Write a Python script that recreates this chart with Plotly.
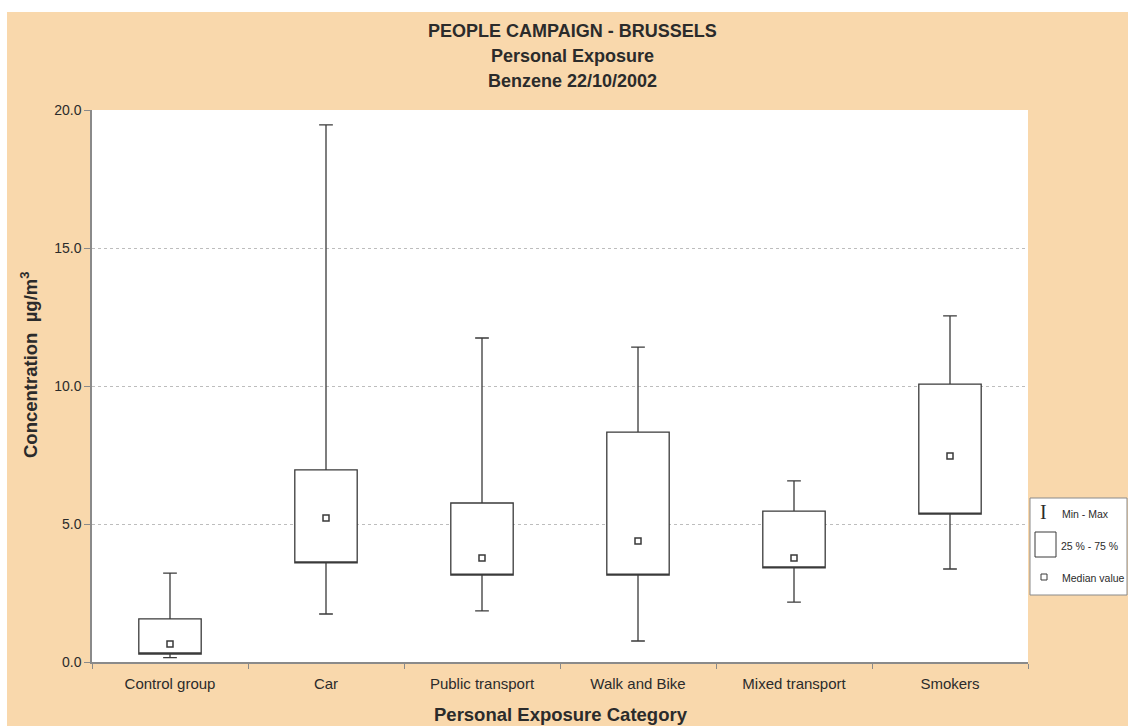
import plotly.graph_objects as go

# ---------------- data ----------------
categories = ["Control group", "Car", "Public transport", "Walk and Bike",
              "Mixed transport", "Smokers"]
minimum = [0.16, 1.74, 1.85, 0.76, 2.17, 3.37]
q25 = [0.29, 3.59, 3.15, 3.15, 3.41, 5.36]
median = [0.65, 5.22, 3.77, 4.38, 3.77, 7.46]
q75 = [1.56, 6.96, 5.76, 8.33, 5.47, 10.07]
maximum = [3.22, 19.46, 11.74, 11.41, 6.56, 12.54]
y_ticks = [0, 5, 10, 15, 20]

W, H = 1128, 726
ML, MR, MT, MB = 92, 100, 110, 64
PW, PH = W - ML - MR, H - MT - MB

def px(x):
    return (x - ML) / PW

def py(y):
    return (H - MB - y) / PH

FONT = "Liberation Sans, Arial, sans-serif"
INK = "#2b2b2b"
PEACH = "#F9D8AC"

fig = go.Figure()

# Box: the median is shown as a separate square marker in the reference,
# so the box's own median line is placed on the lower quartile edge (hidden).
fig.add_trace(go.Box(
    x=categories,
    q1=q25, median=q25, q3=q75,
    lowerfence=minimum, upperfence=maximum,
    boxpoints=False,
    width=0.4,
    whiskerwidth=0.22,
    fillcolor="white",
    line=dict(color="#3a3a3a", width=1.3),
    hoverinfo="skip",
    showlegend=False,
))

fig.add_trace(go.Scatter(
    x=categories, y=median, mode="markers",
    marker=dict(symbol="square", size=6, color="white",
                line=dict(color="#3a3a3a", width=1.5)),
    showlegend=False, hoverinfo="skip",
))

shapes = [
    # white strips along top and left edges
    dict(type="rect", xref="paper", yref="paper", x0=px(0), x1=px(W), y0=py(0), y1=py(12),
         fillcolor="white", line=dict(width=0), layer="below"),
    dict(type="rect", xref="paper", yref="paper", x0=px(0), x1=px(7), y0=py(0), y1=py(H),
         fillcolor="white", line=dict(width=0), layer="below"),
    # legend frame
    dict(type="rect", xref="paper", yref="paper", x0=px(1030), x1=px(1127), y0=py(498), y1=py(595),
         fillcolor="white", line=dict(color="#8a8a8a", width=1)),
    dict(type="rect", xref="paper", yref="paper", x0=px(1035), x1=px(1056), y0=py(532), y1=py(557),
         fillcolor="white", line=dict(color="#3a3a3a", width=1)),
    dict(type="rect", xref="paper", yref="paper", x0=px(1041), x1=px(1047), y0=py(574), y1=py(580),
         fillcolor="white", line=dict(color="#3a3a3a", width=1)),
]

annotations = []
for txt, yy in [("PEOPLE CAMPAIGN - BRUSSELS", 31), ("Personal Exposure", 56),
                ("Benzene 22/10/2002", 81)]:
    annotations.append(dict(text=f"<b>{txt}</b>", xref="paper", yref="paper",
                            x=px(572), y=py(yy), xanchor="center", yanchor="middle",
                            showarrow=False, font=dict(family=FONT, size=18, color=INK)))
annotations.append(dict(text="<b>Personal Exposure Category</b>", xref="paper", yref="paper",
                        x=px(561), y=py(714), xanchor="center", yanchor="middle",
                        showarrow=False, font=dict(family=FONT, size=18.5, color=INK)))
annotations.append(dict(text="<b>Concentration  µg/m<sup>3</sup></b>", xref="paper", yref="paper",
                        x=px(29), y=py(365), xanchor="center", yanchor="middle", textangle=-90,
                        showarrow=False, font=dict(family=FONT, size=18.5, color=INK)))
# legend texts
annotations.append(dict(text="I", xref="paper", yref="paper", x=px(1043), y=py(512),
                        xanchor="center", yanchor="middle", showarrow=False,
                        font=dict(family="Liberation Serif, serif", size=20, color=INK)))
for txt, xx, yy in [("Min - Max", 1060, 514), ("25 % - 75 %", 1059, 546),
                    ("Median value", 1060, 578)]:
    annotations.append(dict(text=txt, xref="paper", yref="paper", x=px(xx), y=py(yy),
                            xanchor="left", yanchor="middle", showarrow=False,
                            font=dict(family=FONT, size=10.5, color=INK)))

fig.update_layout(
    width=W, height=H,
    margin=dict(l=ML, r=MR, t=MT, b=MB, pad=0),
    paper_bgcolor=PEACH,
    plot_bgcolor="white",
    font=dict(family=FONT, size=13, color=INK),
    shapes=shapes,
    annotations=annotations,
    showlegend=False,
    xaxis=dict(
        type="category", categoryorder="array", categoryarray=categories,
        range=[-0.5, len(categories) - 0.5],
        showline=True, linecolor="#8a8a8a", linewidth=1.5,
        ticks="outside", tickson="boundaries", ticklen=5, tickcolor="#8a8a8a",
        ticklabelstandoff=7,
        showgrid=False, tickfont=dict(family=FONT, size=15, color=INK),
    ),
    yaxis=dict(
        range=[0, 20], tickvals=y_ticks, tickformat=".1f",
        showline=True, linecolor="#8a8a8a", linewidth=1.5,
        ticks="outside", ticklen=6, tickcolor="#8a8a8a",
        showgrid=True, gridcolor="#bdbdbd", gridwidth=1, griddash="3px,3px",
        zeroline=False, tickfont=dict(family=FONT, size=14, color=INK),
    ),
)

fig.write_html("out.html", config={"displayModeBar": False},
               post_script="document.body.style.margin='0';document.body.style.overflow='hidden';")
